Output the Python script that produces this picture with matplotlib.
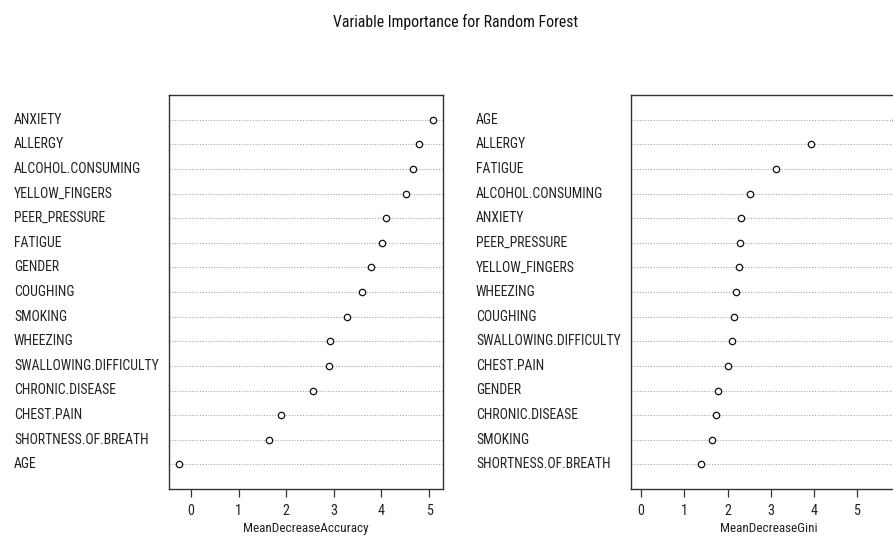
import matplotlib
matplotlib.use("Agg")
import matplotlib.pyplot as plt
from matplotlib import font_manager, transforms

names = {f.name for f in font_manager.fontManager.ttflist}
FAM = "Roboto Condensed" if "Roboto Condensed" in names else "Roboto"
plt.rcParams['font.family'] = [FAM, 'DejaVu Sans']

title = "Variable Importance for Random Forest"

acc_labels = ["ANXIETY", "ALLERGY", "ALCOHOL.CONSUMING", "YELLOW_FINGERS", "PEER_PRESSURE",
              "FATIGUE", "GENDER", "COUGHING", "SMOKING", "WHEEZING",
              "SWALLOWING.DIFFICULTY", "CHRONIC.DISEASE", "CHEST.PAIN",
              "SHORTNESS.OF.BREATH", "AGE"]
acc_values = [5.08, 4.79, 4.67, 4.52, 4.10, 4.02, 3.79, 3.59, 3.27, 2.91,
              2.90, 2.56, 1.88, 1.63, -0.25]
acc_xlabel = "MeanDecreaseAccuracy"

gini_labels = ["AGE", "ALLERGY", "FATIGUE", "ALCOHOL.CONSUMING", "ANXIETY",
               "PEER_PRESSURE", "YELLOW_FINGERS", "WHEEZING", "COUGHING",
               "SWALLOWING.DIFFICULTY", "CHEST.PAIN", "GENDER", "CHRONIC.DISEASE",
               "SMOKING", "SHORTNESS.OF.BREATH"]
gini_values = [5.90, 3.94, 3.12, 2.51, 2.31, 2.30, 2.27, 2.20, 2.14, 2.10,
               2.01, 1.78, 1.74, 1.65, 1.38]
gini_xlabel = "MeanDecreaseGini"

ticks = [0, 1, 2, 3, 4, 5]

W, H = 893, 538
fig = plt.figure(figsize=(W / 100, H / 100), dpi=100)
fig.patch.set_facecolor("white")

def px_axes(x0, y0, x1, y1):
    return fig.add_axes([x0 / W, 1 - y1 / H, (x1 - x0) / W, (y1 - y0) / H])

FS_LAB = 9.9
FS_TICK = 10.2
FS_XLAB = 9.5
TXT = "#222222"

def panel(ax, labels, values, xlabel, xmin, label_x):
    n = len(values)
    ys = list(range(n, 0, -1))
    xmax = max(values)
    rng = xmax - xmin
    ax.set_xlim(xmin - 0.04 * rng, xmax + 0.04 * rng)
    ax.set_ylim(0, n + 1)
    for y in ys:
        ax.axhline(y, color="#a8a8a8", lw=0.8, ls=(0, (1, 1.5)), zorder=1)
    ax.plot(values, ys, ls="none", marker="o", ms=4.6, mfc="white",
            mec="#111111", mew=0.9, zorder=3, clip_on=False)
    ax.set_yticks([])
    ax.set_xticks(ticks)
    ax.set_xticklabels([str(t) for t in ticks], fontsize=FS_TICK, color=TXT)
    ax.tick_params(axis="x", length=5.5, width=0.9, color="#333333", pad=5)
    ax.set_xlabel(xlabel, fontsize=FS_XLAB, color=TXT, labelpad=3)
    for s in ax.spines.values():
        s.set_color("#333333")
        s.set_linewidth(1.0)
    tr = transforms.blended_transform_factory(fig.transFigure, ax.transData)
    for lab, y in zip(labels, ys):
        fig.text(label_x / W, y, lab, transform=tr, ha="left", va="center",
                 fontsize=FS_LAB, color=TXT)

ax1 = px_axes(169, 95, 443, 489)
panel(ax1, acc_labels, acc_values, acc_xlabel, min(acc_values), 14)

ax2 = px_axes(631, 95, 906, 489)
panel(ax2, gini_labels, gini_values, gini_xlabel, 0, 476)

fig.text(456 / W, 1 - 22 / H, title, ha="center", va="center", fontsize=11.3, color="#111111")

fig.savefig("out.png", dpi=100, facecolor="white")
